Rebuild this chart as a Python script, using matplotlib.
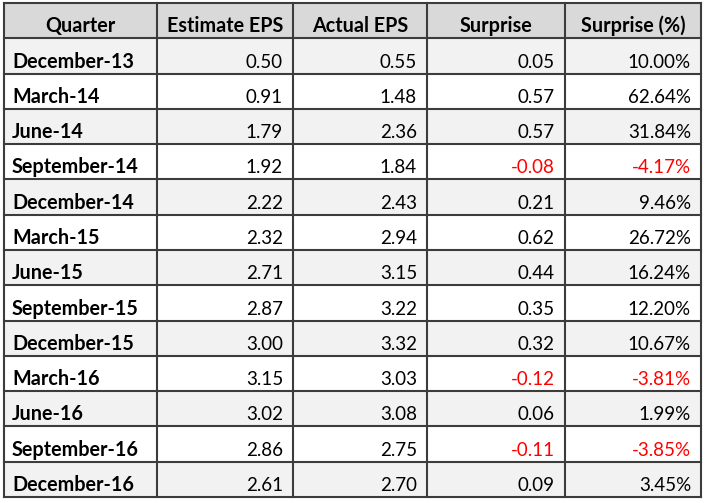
import matplotlib
matplotlib.use("Agg")
import matplotlib.pyplot as plt
from matplotlib.patches import Rectangle

# table data
headers = ["Quarter", "Estimate EPS", "Actual EPS", "Surprise", "Surprise (%)"]
quarters = ["December-13", "March-14", "June-14", "September-14", "December-14",
            "March-15", "June-15", "September-15", "December-15", "March-16",
            "June-16", "September-16", "December-16"]
estimate_eps = [0.50, 0.91, 1.79, 1.92, 2.22, 2.32, 2.71, 2.87, 3.00, 3.15, 3.02, 2.86, 2.61]
actual_eps = [0.55, 1.48, 2.36, 1.84, 2.43, 2.94, 3.15, 3.22, 3.32, 3.03, 3.08, 2.75, 2.70]
surprise = [0.05, 0.57, 0.57, -0.08, 0.21, 0.62, 0.44, 0.35, 0.32, -0.12, 0.06, -0.11, 0.09]
surprise_pct = [10.00, 62.64, 31.84, -4.17, 9.46, 26.72, 16.24, 12.20, 10.67, -3.81, 1.99, -3.85, 3.45]

# layout (pixels)
W, H = 706, 503
col_edges = [4, 157, 293, 427, 565, 701]
top, bottom = 3, 497
n_rows = len(quarters) + 1
row_h = (bottom - top) / n_rows

FONT = "Lato"
FS_BOLD = 14.2
FS_NUM = 13.5
LINE = "#3c3c3c"

fig = plt.figure(figsize=(W / 100, H / 100), dpi=100)
ax = fig.add_axes([0, 0, 1, 1])
ax.set_xlim(0, W)
ax.set_ylim(H, 0)
ax.axis("off")

# backgrounds
ax.add_patch(Rectangle((col_edges[0], top), col_edges[-1] - col_edges[0], row_h,
                       facecolor="#d9d9d9", edgecolor="none"))
for i in range(len(quarters)):
    y0 = top + (i + 1) * row_h
    fc = "#f2f2f2" if i % 2 == 0 else "white"
    ax.add_patch(Rectangle((col_edges[0], y0), col_edges[-1] - col_edges[0], row_h,
                           facecolor=fc, edgecolor="none"))

# grid lines
for x in col_edges:
    ax.plot([x, x], [top, bottom], color=LINE, lw=1.5, solid_capstyle="projecting")
for r in range(n_rows + 1):
    y = top + r * row_h
    ax.plot([col_edges[0], col_edges[-1]], [y, y], color=LINE, lw=1.5,
            solid_capstyle="projecting")

# header
for j, h in enumerate(headers):
    xc = (col_edges[j] + col_edges[j + 1]) / 2
    ax.text(xc, top + row_h - 6, h, ha="center", va="baseline",
            fontsize=FS_BOLD, fontweight="bold", family=FONT, color="black")

# body
for i, q in enumerate(quarters):
    yb = top + (i + 2) * row_h - 6
    ax.text(col_edges[0] + 8, yb, q, ha="left", va="baseline",
            fontsize=FS_BOLD, fontweight="bold", family=FONT, color="black")
    vals = [f"{estimate_eps[i]:.2f}", f"{actual_eps[i]:.2f}",
            f"{surprise[i]:.2f}", f"{surprise_pct[i]:.2f}%"]
    for j, v in enumerate(vals):
        neg = j >= 2 and surprise[i] < 0
        ax.text(col_edges[j + 2] - 10, yb, v, ha="right", va="baseline",
                fontsize=FS_NUM, family=FONT, color="#ff0000" if neg else "black")

fig.savefig("out.png", dpi=100)
